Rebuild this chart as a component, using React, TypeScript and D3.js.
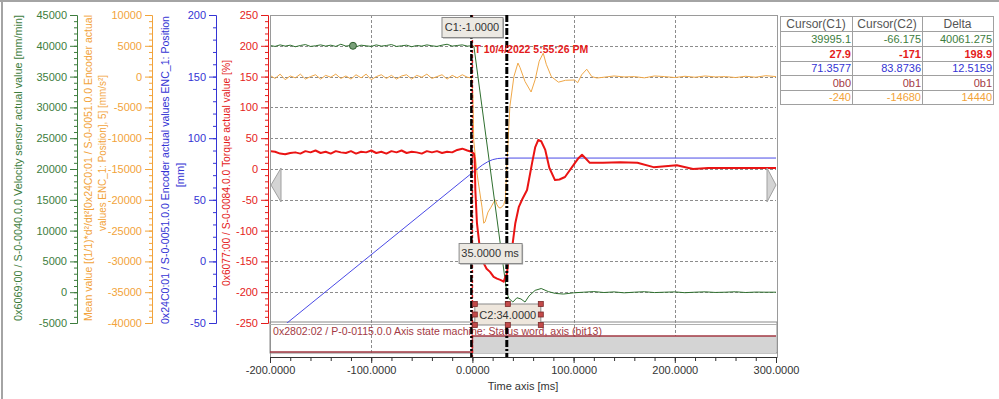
import React, { useRef, useEffect } from "react";
import * as d3 from "d3";

// sample times of the pre-trigger recording (ms)
const preTimes = d3.range(-200, 0, 5);

const greenPre = [40050, 39900, 40150, 39950, 40100, 39850, 40050, 40200, 39900, 40000, 40150, 39950, 40100, 39900, 40250, 39950, 40050, 39850, 40100, 40000, 39900, 40150, 39950, 40050, 40200, 39900, 40000, 40100, 39850, 40050, 39950, 40150, 40000, 39900, 40100, 40250, 39950, 40050, 40150, 39950];
const greenPost = [[-1, 39995.1], [1.5, 39900], [34, -66.175], [36, -1000], [40, -1600], [44, -900], [48, -1100], [52, -1600], [56, -600], [62, 300], [68, 600], [75, 100], [82, -200], [90, -300], [100, -100], [110, 0], [120, 100], [130, -50], [140, 50], [150, -100], [160, 0], [170, 80], [180, -60], [190, 0], [200, 50], [210, -80], [220, 0], [230, 60], [240, -40], [250, 0], [260, 70], [270, -50], [280, 20], [290, 0], [300, 0]];

const orangePre = [200, -300, 400, -500, 100, -200, 400, -400, 0, 300, -400, 200, -100, 400, -300, 100, -400, 300, -200, 400, -500, 0, 300, -300, 200, -400, 100, 300, -400, 200, -100, 400, -300, 0, 300, -400, 200, -200, 300, -100];
const orangePost = [[-1, -240], [0.5, -3000], [1.3, -10300], [2.9, -13000], [4.5, -15650], [6.5, -17900], [9.5, -21200], [11.2, -23800], [12.5, -23600], [15.4, -22000], [18.4, -21200], [21, -20400], [22.6, -20000], [24.3, -20800], [26.3, -21300], [28.3, -21300], [30.9, -20800], [32.5, -20000], [34, -14680], [37, -4900], [41, 0], [45, 2200], [47, 1500], [52, -800], [58, -2500], [62, -500], [66, 2500], [70, 3800], [73, 2000], [78, 0], [85, -900], [92, -600], [101, -550], [104, -1000], [108, 300], [113, 1200], [118, 0], [123, -230], [130, -100], [140, 100], [150, -50], [160, 0], [170, -200], [180, 100], [190, 0], [200, -150], [210, 50], [220, -100], [230, 100], [240, -50], [250, 0], [260, -150], [270, 50], [280, -100], [290, 150], [300, 0]];

const redPre = [29, 28, 25, 24, 26, 27, 25, 29, 27, 30, 26, 28, 25, 29, 27, 26, 29, 25, 28, 27, 30, 26, 28, 25, 29, 27, 30, 26, 28, 27, 25, 29, 27, 29, 26, 28, 27, 31, 33, 30];
const redPost = [[-1, 27.9], [1.5, 25], [2.3, 14.6], [2.9, -34], [4.5, -88], [7.5, -131], [11.2, -153], [14, -162], [17.4, -167], [21, -175], [24.3, -178], [27.6, -180], [30.9, -183], [32.5, -175], [34, -171], [35.5, -150], [39, -131], [42.4, -88], [45.8, -62], [49, -50], [54, -34], [59, 10], [62, 35], [65, 47], [68, 45], [72, 31], [76, 2], [81.6, -18], [86, -17], [91.5, -13], [101.4, 10], [105, 18], [108.3, 23], [112, 17], [116, 10], [129, 10], [146, 11], [163, 10], [179, 3], [202, 6], [218, 0], [233, 1.6], [260, 1.6], [300, 1.6]];

const bluePoints = [[-200, -61.2], [-1, 71.36], [5, 75.2], [10, 78.3], [15, 80.8], [20, 82.6], [25, 83.5], [30, 83.8], [34, 83.87], [300, 83.9]];

const statusBits = [[-200, 0], [0, 0], [0, 1], [300, 1]];

const cursorC1 = -1;
const cursorC2 = 34;
const triggerTime = 0;
const markerTime = -118;

const tableHeaders = ["Cursor(C1)", "Cursor(C2)", "Delta"];
const tableRows = [
  ["39995.1", "-66.175", "40061.275"],
  ["27.9", "-171", "198.9"],
  ["71.3577", "83.8736", "12.5159"],
  ["0b0", "0b1", "0b1"],
  ["-240", "-14680", "14440"],
];

const GREEN = "#3d7d3d";
const ORANGE = "#f2a33a";
const BLUE = "#3434d4";
const RED = "#e41c1c";
const BROWN = "#a33a44";
const FONT = "'Liberation Sans', Arial, sans-serif";

const App = () => {
  const ref = useRef<SVGSVGElement>(null);

  useEffect(() => {
    const svg = d3.select(ref.current);
    svg.selectAll("*").remove();

    const plotL = 270, plotR = 776, plotT = 15, plotB = 323;
    const statusT = 322, statusB = 353, axisY = 357;

    const x = d3.scaleLinear().domain([-200, 300]).range([plotL, plotR]);
    const yGreen = d3.scaleLinear().domain([-5000, 45000]).range([plotB, plotT]);
    const yOrange = d3.scaleLinear().domain([-40000, 10000]).range([plotB, plotT]);
    const yBlue = d3.scaleLinear().domain([-50, 200]).range([plotB, plotT]);
    const yRed = d3.scaleLinear().domain([-250, 250]).range([plotB, plotT]);
    const yBit = d3.scaleLinear().domain([0, 1]).range([352, 336]);

    // outer frame
    svg.append("line").attr("x1", 0).attr("x2", 999).attr("y1", 1).attr("y2", 1).attr("stroke", "#a4a4a4").attr("stroke-width", 2);
    svg.append("line").attr("x1", 2).attr("x2", 2).attr("y1", 0).attr("y2", 399).attr("stroke", "#a4a4a4").attr("stroke-width", 2);

    // left axes
    const yAxis = (scale, xPos, color, step) => {
      const [lo, hi] = scale.domain();
      const g = svg.append("g").attr("transform", `translate(${xPos},0)`);
      g.append("g").call(d3.axisLeft(scale).tickValues(d3.range(lo, hi + 1e-9, step / 5)).tickSize(3).tickFormat(() => "").tickSizeOuter(0));
      g.append("g").call(d3.axisLeft(scale).tickValues(d3.range(lo, hi + 1e-9, step)).tickSize(7).tickPadding(3)
        .tickFormat((d) => String(d)).tickSizeOuter(0));
      g.selectAll("path, line").attr("stroke", color);
      g.selectAll("text").attr("fill", color).style("font-family", FONT).style("font-size", "11px");
    };
    yAxis(yGreen, 77, GREEN, 5000);
    yAxis(yOrange, 152, ORANGE, 5000);
    yAxis(yBlue, 216, BLUE, 50);
    yAxis(yRed, 268, RED, 50);

    const title = (txt, cx, cy, color, len?) => {
      const t = svg.append("text").attr("transform", `translate(${cx},${cy}) rotate(-90)`)
        .attr("text-anchor", "middle").attr("dy", "0.35em")
        .style("font-family", FONT).style("font-size", "11px").attr("fill", color).text(txt);
      if (len) t.attr("textLength", len).attr("lengthAdjust", "spacingAndGlyphs");
    };
    title("0x6069:00 / S-0-0040.0.0 Velocity sensor actual value [mm/min]", 18, 168, GREEN, 306);
    title("Mean value [(1/1)*d²/dt²[0x24C0:01 / S-0-0051.0.0 Encoder actual", 88, 168, ORANGE, 306);
    title("values ENC_1: Position], 5] [mm/s²]", 102, 153, ORANGE, 156);
    title("0x24C0:01 / S-0-0051.0.0 Encoder actual values ENC_1: Position", 165, 170, BLUE, 308);
    title("[mm]", 180, 175, BLUE);
    title("0x6077:00 / S-0-0084.0.0 Torque actual value [%]", 226, 173, RED, 226);

    // grid
    const grid = svg.append("g").attr("stroke", "#8c8c8c").attr("stroke-dasharray", "3,2").attr("stroke-width", 1);
    yRed.ticks(10).filter((v) => v > -250 && v < 250).forEach((v) => {
      grid.append("line").attr("x1", plotL).attr("x2", plotR).attr("y1", Math.round(yRed(v)) + 0.5).attr("y2", Math.round(yRed(v)) + 0.5);
    });
    [-100, 0, 100, 200].forEach((v) => {
      grid.append("line").attr("x1", Math.round(x(v)) + 0.5).attr("x2", Math.round(x(v)) + 0.5).attr("y1", plotT).attr("y2", statusB);
    });

    // plot frame
    svg.append("rect").attr("x", plotL + 0.5).attr("y", plotT + 0.5).attr("width", plotR - plotL + 1).attr("height", axisY - plotT)
      .attr("fill", "none").attr("stroke", "#9a9a9a");

    // status subplot
    svg.append("rect").attr("x", plotL).attr("y", statusT).attr("width", plotR - plotL + 1).attr("height", statusB - statusT)
      .attr("fill", "none").attr("stroke", "#8a8a8a");
    svg.append("line").attr("x1", plotL).attr("x2", plotR + 1).attr("y1", statusT + 2.5).attr("y2", statusT + 2.5).attr("stroke", "#b0b0b0");
    svg.append("rect").attr("x", x(0)).attr("y", yBit(1)).attr("width", x(300) - x(0)).attr("height", statusB - yBit(1))
      .attr("fill", "#d4d4d4");
    svg.append("path").datum(statusBits)
      .attr("d", d3.line().x((d) => x(d[0])).y((d) => yBit(d[1])))
      .attr("fill", "none").attr("stroke", BROWN).attr("stroke-width", 1.5);
    svg.append("text").attr("x", 273).attr("y", 335).attr("fill", BROWN)
      .style("font-family", FONT).style("font-size", "11px")
      .attr("textLength", 329).attr("lengthAdjust", "spacingAndGlyphs")
      .text("0x2802:02 / P-0-0115.0.0 Axis state machine: Status word, axis (bit13)");

    // x axis
    const xg = svg.append("g").attr("transform", `translate(0,${axisY})`);
    xg.append("g").call(d3.axisBottom(x).tickValues(d3.range(-200, 301, 20)).tickSize(4).tickFormat(() => "").tickSizeOuter(0));
    xg.append("g").call(d3.axisBottom(x).tickValues(d3.range(-200, 301, 100)).tickSize(6).tickPadding(3)
      .tickFormat((d) => d.toFixed(4)).tickSizeOuter(0));
    xg.selectAll("path, line").attr("stroke", "#333");
    xg.selectAll("text").attr("fill", "#333").style("font-family", FONT).style("font-size", "11px");
    svg.append("text").attr("x", (plotL + plotR) / 2).attr("y", 390).attr("text-anchor", "middle").attr("fill", "#333")
      .style("font-family", FONT).style("font-size", "11px").text("Time axis [ms]");

    // series
    svg.append("clipPath").attr("id", "plotClip").append("rect")
      .attr("x", plotL + 1).attr("y", plotT + 1).attr("width", plotR - plotL - 1).attr("height", plotB - plotT - 1);
    const series = svg.append("g").attr("clip-path", "url(#plotClip)");

    const withPre = (pre, post) => preTimes.map((t, i) => [t, pre[i]]).concat(post);
    const drawLine = (pts, yScale, color, w) => {
      series.append("path").datum(pts)
        .attr("d", d3.line().x((d) => x(d[0])).y((d) => yScale(d[1])))
        .attr("fill", "none").attr("stroke", color).attr("stroke-width", w).attr("stroke-linejoin", "round");
    };
    drawLine(withPre(orangePre, orangePost), yOrange, "#f0a848", 1);
    drawLine(withPre(greenPre, greenPost), yGreen, "#2f6f2f", 1);
    drawLine(bluePoints, yBlue, "#4a4ae6", 1);
    drawLine(withPre(redPre, redPost), yRed, "#ea1414", 2);

    series.append("circle").attr("cx", x(markerTime)).attr("cy", yGreen(40000)).attr("r", 3.5)
      .attr("fill", "#7aa07a").attr("stroke", "#2f5f2f").attr("stroke-width", 1);

    // scroll arrows
    svg.append("path").attr("d", "M271,185 L281,168 L281,202 Z").attr("fill", "#d4d4d4").attr("stroke", "#a0a0a0");
    svg.append("path").attr("d", "M776,185 L767,168 L767,202 Z").attr("fill", "#d4d4d4").attr("stroke", "#a0a0a0");

    // cursors
    svg.append("line").attr("x1", x(triggerTime)).attr("x2", x(triggerTime)).attr("y1", plotT).attr("y2", axisY)
      .attr("stroke", RED).attr("stroke-width", 1.5).attr("stroke-dasharray", "3,2");
    [cursorC1, cursorC2].forEach((c, i) => {
      svg.append("line").attr("x1", x(c)).attr("x2", x(c)).attr("y1", plotT).attr("y2", axisY)
        .attr("stroke", "#000").attr("stroke-width", i === 0 ? 2.5 : 3).attr("stroke-dasharray", "7,2,2,2");
    });

    const labelBox = (txt, cx, y0, w, h) => {
      svg.append("rect").attr("x", cx - w / 2 + 1.5).attr("y", y0 + 1.5).attr("width", w).attr("height", h).attr("fill", "#9a9a9a");
      svg.append("rect").attr("x", cx - w / 2 + 0.5).attr("y", y0 + 0.5).attr("width", w).attr("height", h)
        .attr("fill", "#ece9e3").attr("stroke", "#8a8a8a");
      svg.append("text").attr("x", cx).attr("y", y0 + h / 2 + 4).attr("text-anchor", "middle").attr("fill", "#333")
        .style("font-family", FONT).style("font-size", "11px").text(txt);
    };
    labelBox("C1:-1.0000", x(cursorC1) + 0.6, 17, 61, 20);
    labelBox(`${(cursorC2 - cursorC1).toFixed(4)} ms`, (x(cursorC1) + x(cursorC2)) / 2 + 1, 243, 63, 20);

    // C2 box with handles
    const c2x = x(cursorC2) + 1, c2w = 66, c2y = 304, c2h = 21;
    svg.append("rect").attr("x", c2x - c2w / 2).attr("y", c2y).attr("width", c2w).attr("height", c2h)
      .attr("fill", "#eee6dc").attr("stroke", "#8a8a8a");
    svg.append("text").attr("x", c2x).attr("y", c2y + c2h / 2 + 4).attr("text-anchor", "middle").attr("fill", "#333")
      .style("font-family", FONT).style("font-size", "11px").text(`C2:${cursorC2.toFixed(4)}`);
    [-1, 0, 1].forEach((hx) => [-1, 0, 1].forEach((hy) => {
      if (hx === 0 && hy === 0) return;
      svg.append("rect").attr("x", c2x + hx * c2w / 2 - 2.5).attr("y", c2y + c2h / 2 + hy * c2h / 2 - 2.5)
        .attr("width", 5).attr("height", 5).attr("fill", "#c24a4a").attr("stroke", "#7a2a2a").attr("stroke-width", 0.8);
    }));

    svg.append("text").attr("x", x(triggerTime) + 2).attr("y", 53).attr("fill", RED)
      .style("font-family", FONT).style("font-size", "10.5px").style("font-weight", "bold")
      .text("T 10/4/2022 5:55:26 PM");

    // cursor table
    const cols = [780, 852, 922, 993];
    const rows = [16, 31, 46, 61, 75, 90, 104];
    const rowColors = [GREEN, RED, BLUE, BROWN, ORANGE];
    const tb = svg.append("g").style("font-family", FONT).style("font-size", "11px");
    tb.append("rect").attr("x", cols[0] + 0.5).attr("y", rows[0] + 0.5).attr("width", cols[3] - cols[0]).attr("height", rows[6] - rows[0])
      .attr("fill", "#fff").attr("stroke", "#a0a0a0");
    cols.slice(1, 3).forEach((c) => tb.append("line").attr("x1", c + 0.5).attr("x2", c + 0.5).attr("y1", rows[0]).attr("y2", rows[6]).attr("stroke", "#a0a0a0"));
    rows.slice(1, 6).forEach((r) => tb.append("line").attr("x1", cols[0]).attr("x2", cols[3]).attr("y1", r + 0.5).attr("y2", r + 0.5).attr("stroke", "#a0a0a0"));
    tableHeaders.forEach((h, i) => {
      tb.append("text").attr("x", (cols[i] + cols[i + 1]) / 2).attr("y", rows[1] - 3).attr("text-anchor", "middle")
        .attr("fill", "#555").style("font-size", "12px").text(h);
    });
    tableRows.forEach((row, r) => row.forEach((v, c) => {
      tb.append("text").attr("x", cols[c + 1] - 1).attr("y", rows[r + 2] - 3).attr("text-anchor", "end")
        .attr("fill", rowColors[r]).style("font-weight", r === 1 ? "bold" : "normal").text(v);
    }));
  }, []);

  return <svg ref={ref} width={999} height={399} style={{ position: "absolute", left: 0, top: 0, background: "#fff" }} />;
};

export default App;
